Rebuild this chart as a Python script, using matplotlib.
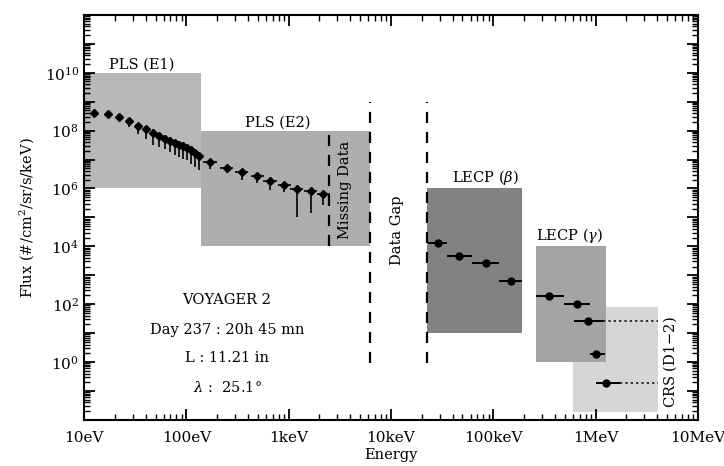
import math
import matplotlib
matplotlib.use('Agg')
import matplotlib.pyplot as plt
from matplotlib.patches import Rectangle
from matplotlib.ticker import FixedLocator, FuncFormatter, LogLocator, NullFormatter

plt.rcParams['font.family'] = 'DejaVu Serif'
plt.rcParams['mathtext.fontset'] = 'dejavuserif'

# instrument coverage boxes (energy in eV, flux)
box_labels = ['PLS (E1)', 'PLS (E2)', r'LECP ($\beta$)', r'LECP ($\gamma$)', 'CRS (D1$-$2)']
box_e_min = [10, 140, 22.5e3, 260e3, 600e3]
box_e_max = [140, 6.2e3, 190e3, 1.25e6, 4.1e6]
box_f_min = [1e6, 1e4, 1e1, 1e0, 1.8e-2]
box_f_max = [1e10, 1e8, 1e6, 1e4, 8e1]
box_colors = ['#b8b8b8', '#aeaeae', '#828282', '#a4a4a4', '#d6d6d6']
box_order = [1, 1, 1, 2, 1]

# PLS spectrum
pls_energy = [12.5, 17.3, 22.1, 27.7, 33.5, 40.1, 47, 54.5, 62, 69.3, 77, 85.5, 93.5,
              102, 112, 122, 134, 171, 248, 348, 494, 658, 908, 1200, 1640, 2180]
pls_flux = [4.2e8, 3.7e8, 2.9e8, 2.1e8, 1.4e8, 1.1e8, 8.5e7, 6.5e7, 5.3e7, 4.4e7, 3.7e7,
            3.3e7, 2.9e7, 2.5e7, 2.1e7, 1.7e7, 1.3e7, 7.9e6, 5.3e6, 3.6e6, 2.65e6, 1.8e6,
            1.3e6, 9.7e5, 7.9e5, 6.2e5]
pls_flux_low = [3.4e8, 3.1e8, 2.3e8, 1.3e8, 7.9e7, 5.2e7, 3.1e7, 2.7e7, 2.4e7, 1.8e7, 1.4e7,
                1.2e7, 1.07e7, 9.5e6, 7.2e6, 5.5e6, 4.3e6, 4.6e6, 3.3e6, 1.95e6, 1.5e6, 8.7e5,
                7.6e5, 1.05e5, 1.4e5, 2.6e5]
pls_flux_high = [5.0e8, 4.4e8, 3.5e8, 2.6e8, 1.8e8, 1.4e8, 1.1e8, 8.5e7, 7.0e7, 5.8e7, 4.9e7,
                 4.4e7, 3.9e7, 3.3e7, 2.8e7, 2.3e7, 1.8e7, 1.0e7, 6.7e6, 4.5e6, 3.3e6, 2.3e6,
                 1.7e6, 1.25e6, 1.0e6, 8.0e5]
pls_e_low = [12.5, 17.3, 22.1, 27.7, 33.5, 40.1, 47, 54.5, 62, 69.3, 77, 85.5, 93.5,
             102, 112, 122, 134, 147, 214, 300, 426, 567, 783, 1035, 1410, 1880]
pls_e_high = [12.5, 17.3, 22.1, 27.7, 33.5, 40.1, 47, 54.5, 62, 69.3, 77, 85.5, 93.5,
              102, 112, 122, 134, 198, 288, 404, 573, 763, 1050, 1390, 1900, 2530]

# LECP / CRS points
lecp_energy = [28.6e3, 46.7e3, 84.5e3, 148e3, 353e3, 655e3, 851e3, 1.02e6, 1.26e6]
lecp_flux = [1.27e4, 4.6e3, 2.7e3, 6.3e2, 1.99e2, 1.0e2, 26.5, 1.9, 0.19]
lecp_e_low = [23.1e3, 35.4e3, 61.6e3, 115e3, 260e3, 490e3, 617e3, 883e3, 1.02e6]
lecp_e_high = [35.4e3, 61.6e3, 115e3, 190e3, 490e3, 883e3, 1.19e6, 1.23e6, 1.74e6]

# dotted CRS extensions
crs_e_start = [1.19e6, 1.74e6]
crs_e_end = [4.07e6, 4.07e6]
crs_flux = [26.5, 0.19]

# dashed separators
dash_energy = [2.5e3, 6.2e3, 22.5e3]
dash_f_min = [1e4, 0.95, 0.95]
dash_f_max = [1e8, 9.5e8, 9.5e8]

x_ticks = [10, 100, 1e3, 1e4, 1e5, 1e6, 1e7]
x_tick_labels = ['10eV', '100eV', '1keV', '10keV', '100keV', '1MeV', '10MeV']

fig = plt.figure(figsize=(7.24, 4.66), dpi=100)
ax = fig.add_axes([0.116, 0.099, 0.848, 0.869])
ax.set_xscale('log')
ax.set_yscale('log')
ax.set_xlim(10, 1e7)
ax.set_ylim(1e-2, 1e12)

for i in range(len(box_labels)):
    ax.add_patch(Rectangle((box_e_min[i], box_f_min[i]), box_e_max[i] - box_e_min[i],
                           box_f_max[i] - box_f_min[i], facecolor=box_colors[i],
                           edgecolor='none', zorder=box_order[i]))

for e, f0, f1 in zip(dash_energy, dash_f_min, dash_f_max):
    ax.plot([e, e], [f0, f1], color='black', lw=1.6, ls=(0, (5, 4)), zorder=3)

pls_yerr = [[f - lo for f, lo in zip(pls_flux, pls_flux_low)],
            [hi - f for f, hi in zip(pls_flux, pls_flux_high)]]
pls_xerr = [[e - lo for e, lo in zip(pls_energy, pls_e_low)],
            [hi - e for e, hi in zip(pls_energy, pls_e_high)]]
ax.errorbar(pls_energy, pls_flux, yerr=pls_yerr, xerr=pls_xerr, fmt='D', color='black',
            ms=4.5, elinewidth=1.2, capsize=0, zorder=4)

lecp_xerr = [[e - lo for e, lo in zip(lecp_energy, lecp_e_low)],
             [hi - e for e, hi in zip(lecp_energy, lecp_e_high)]]
ax.errorbar(lecp_energy, lecp_flux, xerr=lecp_xerr, fmt='o', color='black',
            ms=5, elinewidth=1.4, capsize=0, zorder=4)

for e0, e1, f in zip(crs_e_start, crs_e_end, crs_flux):
    ax.plot([e0, e1], [f, f], color='black', lw=1.1, ls=(0, (1.5, 2)), zorder=4)

# labels
ax.text(37, 1.1e10, box_labels[0], ha='center', va='bottom', fontsize=10.5)
ax.text(790, 1.1e8, box_labels[1], ha='center', va='bottom', fontsize=10.5)
ax.text(83e3, 1.1e6, box_labels[2], ha='center', va='bottom', fontsize=10.5)
ax.text(560e3, 1.1e4, box_labels[3], ha='center', va='bottom', fontsize=10.5)
ax.text(5.4e6, 1.0, box_labels[4], ha='center', va='center', rotation=90, fontsize=10.5)
ax.text(3.56e3, 8.7e5, 'Missing Data', ha='center', va='center', rotation=90, fontsize=10.5)
ax.text(11.5e3, 3.6e4, 'Data Gap', ha='center', va='center', rotation=90, fontsize=10.5)

info_lines = ['VOYAGER 2', 'Day 237 : 20h 45 mn', 'L : 11.21 in', r'$\lambda$ :  25.1$\degree$']
info_y = [0.296, 0.222, 0.153, 0.079]
for line, yy in zip(info_lines, info_y):
    ax.text(0.233, yy, line, transform=ax.transAxes, ha='center', va='center', fontsize=10.5)

ax.xaxis.set_major_locator(FixedLocator(x_ticks))
ax.set_xticklabels(x_tick_labels)
ax.xaxis.set_minor_locator(LogLocator(base=10, subs=range(2, 10), numticks=20))
ax.xaxis.set_minor_formatter(NullFormatter())

ax.yaxis.set_major_locator(LogLocator(base=10, subs=[1.0], numticks=20))
ax.yaxis.set_minor_locator(LogLocator(base=10, subs=range(2, 10), numticks=20))
ax.yaxis.set_minor_formatter(NullFormatter())


def y_fmt(v, pos):
    p = int(round(math.log10(v)))
    if p % 2 == 0 and 0 <= p <= 10:
        return r'$10^{%d}$' % p
    return ''


ax.yaxis.set_major_formatter(FuncFormatter(y_fmt))

ax.tick_params(which='both', direction='in', top=True, right=True, labelsize=11)
ax.tick_params(which='major', length=8, width=1.3)
ax.tick_params(which='minor', length=4, width=1.0)
ax.tick_params(axis='x', pad=8)
for s in ax.spines.values():
    s.set_linewidth(1.5)

ax.set_xlabel('Energy', fontsize=10.5, labelpad=2)
ax.set_ylabel('Flux (#/cm$^2$/sr/s/keV)', fontsize=10.5, labelpad=6)

fig.savefig('out.png', dpi=100)
